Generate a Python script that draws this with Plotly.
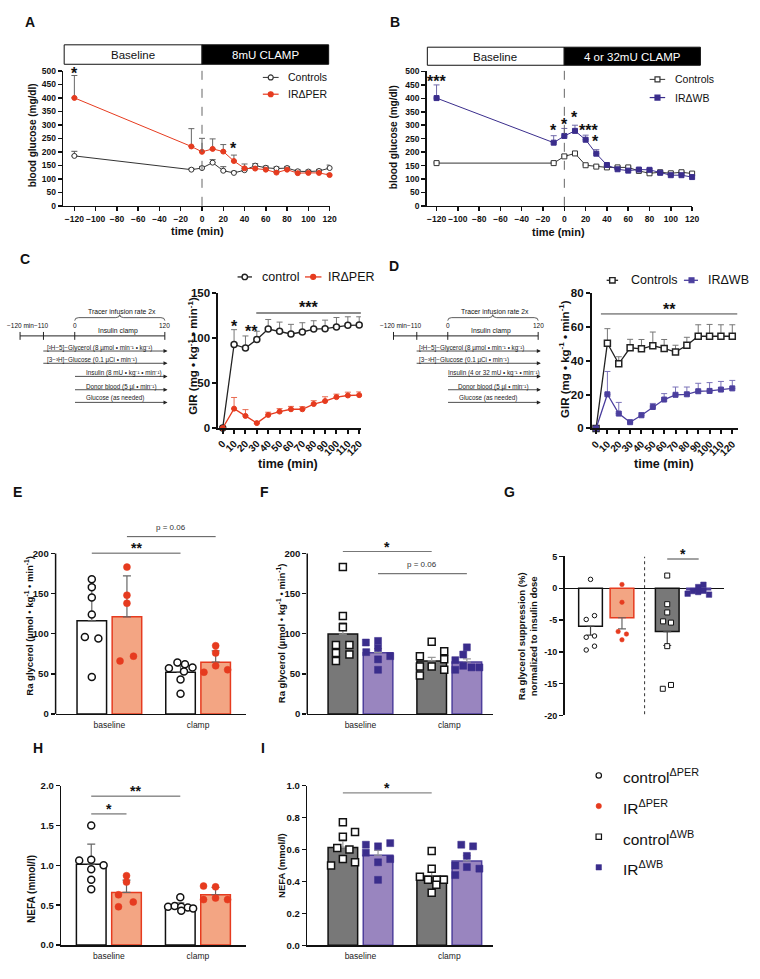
import plotly.graph_objects as go

W, H = 760, 979
FONT = "Liberation Sans, Arial, Helvetica, sans-serif"

RED = "#E63B1F"
SALMON = "#F3A583"
NAVY = "#3A2D8C"
PURPLE = "#4B3F9E"
LAVENDER = "#9985BF"
LAV_EDGE = "#4E3F9C"
GRAYBAR = "#787878"
INK = "#111111"

# ---------------- data ----------------
# A / B : blood glucose time course
time_glucose = [-120, -10, 0, 10, 20, 30, 40, 50, 60, 70, 80, 90, 100, 110, 120]
glucA_ctrl = [185, 134, 140, 160, 130, 122, 132, 149, 141, 138, 140, 128, 127, 129, 140]
glucA_ctrl_err = [17, 5, 6, 11, 15, 6, 8, 7, 6, 6, 6, 5, 5, 6, 11]
glucA_ir = [400, 220, 200, 211, 201, 166, 139, 138, 134, 123, 134, 121, 122, 122, 114]
glucA_ir_err = [83, 66, 50, 37, 26, 22, 16, 8, 6, 6, 6, 6, 6, 6, 6]

glucB_ctrl = [159, 159, 184, 195, 151, 146, 143, 143, 143, 130, 121, 125, 121, 125, 120]
glucB_ctrl_err = [4, 4, 6, 5, 4, 4, 4, 4, 4, 4, 4, 4, 4, 4, 4]
glucB_ir = [401, 235, 260, 279, 246, 194, 152, 136, 131, 135, 134, 123, 114, 114, 107]
glucB_ir_err = [49, 26, 28, 21, 17, 15, 6, 5, 5, 5, 5, 5, 5, 5, 5]

# C / D : glucose infusion rate
time_gir = [0, 10, 20, 30, 40, 50, 60, 70, 80, 90, 100, 110, 120]
girC_ctrl = [0, 92.9, 88.9, 98.4, 110.1, 107.6, 104.6, 106.8, 110.1, 110.5, 112.3, 114.2, 114.5]
girC_ctrl_err = [0, 16.5, 13.5, 9.2, 10.6, 10.2, 10.7, 10.3, 9.2, 9.5, 10.6, 9.5, 9.2]
girC_ir = [0, 21.6, 13.5, 5.5, 14.6, 18.3, 20.9, 20.9, 26.7, 30.0, 34.4, 36.2, 36.6]
girC_ir_err = [0, 12.4, 7.0, 0, 3.0, 3.3, 3.2, 2.9, 3.7, 4.8, 3.3, 3.7, 3.6]

girD_ctrl = [0, 50.4, 38.2, 47.7, 47.1, 48.9, 47.3, 45.2, 49.2, 54.5, 54.5, 54.5, 54.5]
girD_ctrl_err = [0, 8.6, 4.2, 5.0, 5.5, 8.1, 5.3, 4.0, 4.7, 6.8, 7.0, 6.8, 6.8]
girD_ir = [0, 20.2, 8.8, 3.7, 7.8, 12.7, 17.1, 19.9, 20.2, 22.0, 22.2, 23.0, 23.7]
girD_ir_err = [0, 13.5, 6.6, 0, 1.5, 2.1, 3.5, 4.6, 4.3, 4.7, 4.9, 4.8, 4.7]

bar_groups = ["baseline", "clamp"]

# E : Ra glycerol, PER (mean, SD)
E_ctrl_mean = [116, 52]
E_ctrl_sd = [44, 8]
E_ir_mean = [121, 64.5]
E_ir_sd = [51, 14]
E_ctrl_base = [168, 158, 145, 124, 96, 94, 46]
E_ctrl_clamp = [64, 62, 57, 58, 53, 43, 25]
E_ir_base = [183, 148, 138, 66, 72]
E_ir_clamp = [85, 76, 60, 52, 55]

# F : Ra glycerol, WB (mean, SEM)
F_ctrl_mean = [99.5, 66]
F_ctrl_sem = [14.4, 4.6]
F_ir_mean = [76.3, 64.7]
F_ir_sem = [5, 3.9]
F_ctrl_base = [183, 122, 108, 86, 86, 76, 74, 66]
F_ctrl_clamp = [90, 78, 72, 68, 59, 59, 55, 48]
F_ir_base = [89, 91, 82, 77, 72, 68, 55]
F_ir_clamp = [83, 74, 67, 60, 55, 58, 58]

# G : Ra glycerol suppression normalised to insulin dose
G_means = [-5.97, -4.63, -6.8, -0.25]
G_errs = [1.4, 1.76, 2.2, 0.2]
G_ctrl_per = [1.4, -4.3, -4.9, -7.5, -7.7, -9.1, -9.7]
G_ir_per = [0.6, -2.2, -6.8, -7.2, -8.1]
G_ctrl_wb = [2.0, -2.5, -3.8, -5.2, -5.4, -9.1, -15.8, -15.2]
G_ir_wb = [-0.85, -0.44, 0.19, -0.59, 0.55, -0.39, -1.0]

# H : NEFA, PER (mean, SD)
H_ctrl_mean = [1.015, 0.47]
H_ctrl_sd = [0.25, 0.06]
H_ir_mean = [0.66, 0.632]
H_ir_sd = [0.154, 0.09]
H_ctrl_base = [1.50, 1.06, 1.07, 1.00, 0.95, 0.82, 0.70]
H_ctrl_clamp = [0.60, 0.48, 0.49, 0.48, 0.47, 0.46, 0.43]
H_ir_base = [0.87, 0.79, 0.63, 0.48, 0.54]
H_ir_clamp = [0.74, 0.73, 0.57, 0.59, 0.57]

# I : NEFA, WB (mean, SEM)
I_ctrl_mean = [0.612, 0.432]
I_ctrl_sem = [0.04, 0.027]
I_ir_mean = [0.564, 0.528]
I_ir_sem = [0.03, 0.033]
I_ctrl_base = [0.77, 0.68, 0.71, 0.61, 0.60, 0.54, 0.52, 0.50]
I_ctrl_clamp = [0.59, 0.48, 0.43, 0.41, 0.41, 0.41, 0.38, 0.33]
I_ir_base = [0.63, 0.62, 0.64, 0.58, 0.52, 0.54, 0.41]
I_ir_clamp = [0.63, 0.62, 0.56, 0.50, 0.49, 0.48, 0.44]

# jitter (horizontal scatter of dots inside a bar, in category units)
J_E = [[0, 0, 0, 0, -0.078, 0.074, 0], [-0.035, 0.05, -0.131, 0.135, 0.039, 0, 0],
       [0, 0, 0, -0.078, 0.074], [0, 0, 0, -0.132, 0.135]]
J_F = [[0, 0, 0, -0.078, 0.074, -0.078, 0.074, -0.078], [0, 0.141, -0.133, 0.141, 0, -0.133, 0.141, -0.133],
       [-0.137, 0, 0, -0.133, 0.137, 0, 0], [0, -0.041, -0.13, -0.041, -0.13, 0.052, 0.141]]
J_G = [[0, 0.052, -0.056, 0.052, -0.056, 0.052, -0.056], [0, 0, -0.05, 0.058, 0],
       [0, 0, 0, -0.054, 0.049, 0, -0.058, 0.049], [-0.144, -0.075, -0.006, -0.006, 0.062, 0.062, 0.135]]
J_H = [[0, -0.135, 0, 0.139, 0, 0, 0], [0, -0.137, -0.063, 0.011, 0.085, 0.144, 0.011],
       [0, 0, -0.09, -0.09, 0.076], [-0.135, 0, -0.135, 0, 0.135]]
J_I = [[0, 0, 0.137, -0.063, 0.074, 0, 0.137, -0.133], [0, 0, -0.133, 0.137, -0.041, 0.056, 0.052, 0],
       [-0.137, 0, 0.137, -0.137, 0, 0.137, 0], [-0.063, 0.07, 0, -0.13, 0, 0.141, -0.13]]

# ---------------- helpers ----------------
fig = go.Figure()
layout = dict(width=W, height=H, margin=dict(l=0, r=0, t=0, b=0),
              paper_bgcolor="white", plot_bgcolor="white", showlegend=False,
              barmode="overlay", font=dict(family=FONT, color=INK))
shapes = []
annotations = []
YR = {}


def X(x):
    return x / W


def Y(y):
    return 1 - y / H


def ref(n, letter):
    return letter if n == 1 else f"{letter}{n}"


def axkey(n, letter):
    return f"{letter}axis" if n == 1 else f"{letter}axis{n}"


def set_axes(n, xpx, ypx, xr, yr, xkw=None, ykw=None, lw=1.5, fs=9):
    base = dict(showgrid=False, zeroline=False, showline=True, linecolor=INK, linewidth=lw,
                ticks="outside", ticklen=4, tickwidth=lw, tickcolor=INK,
                tickfont=dict(size=fs, weight="bold", color=INK, family=FONT), fixedrange=True)
    xa = dict(base, domain=[X(xpx[0]), X(xpx[1])], range=xr, anchor=ref(n, "y"))
    ya = dict(base, domain=[Y(ypx[1]), Y(ypx[0])], range=yr, anchor=ref(n, "x"))
    if xkw:
        xa.update(xkw)
    if ykw:
        ya.update(ykw)
    layout[axkey(n, "x")] = xa
    layout[axkey(n, "y")] = ya
    YR[n] = yr


def line_px(x0, y0, x1, y1, color=INK, width=1, dash=None):
    ln = dict(color=color, width=width)
    if dash:
        ln["dash"] = dash
    shapes.append(dict(type="line", xref="paper", yref="paper", x0=X(x0), y0=Y(y0), x1=X(x1), y1=Y(y1), line=ln))


def rect_px(x0, y0, x1, y1, fill, edge=INK, width=1):
    shapes.append(dict(type="rect", xref="paper", yref="paper", x0=X(x0), y0=Y(y1), x1=X(x1), y1=Y(y0),
                       fillcolor=fill, line=dict(color=edge, width=width)))


def mark_px(x, y, kind, size, fill, edge, width=1.2):
    h = size / 2
    shapes.append(dict(type=kind, xref="paper", yref="paper", x0=X(x - h), x1=X(x + h), y0=Y(y + h), y1=Y(y - h),
                       fillcolor=fill, line=dict(color=edge, width=width)))


def txt(x, y, s, size, color=INK, xanchor="center", yanchor="middle", angle=0):
    annotations.append(dict(x=X(x), y=Y(y), xref="paper", yref="paper", text=s, showarrow=False,
                            font=dict(size=size, color=color, family=FONT), xanchor=xanchor,
                            yanchor=yanchor, textangle=angle))


def txt_data(n, x, y, s, size, color=INK, yshift=0):
    y0, y1 = YR[n]
    annotations.append(dict(x=x, y=(y - y0) / (y1 - y0), xref=ref(n, "x"), yref=ref(n, "y") + " domain",
                            text=s, showarrow=False,
                            font=dict(size=size, color=color, family=FONT), xanchor="center",
                            yanchor="middle", yshift=yshift))


def line_data(n, x0, x1, y, color=INK, width=1):
    shapes.append(dict(type="line", xref=ref(n, "x"), yref=ref(n, "y"), x0=x0, x1=x1, y0=y, y1=y,
                       line=dict(color=color, width=width)))


def arrow_px(x0, x1, y):
    annotations.append(dict(x=X(x1), y=Y(y), xref="paper", yref="paper", text="", showarrow=True,
                            ax=-(x1 - x0), ay=0, axref="pixel", ayref="pixel", arrowhead=2,
                            arrowsize=1, arrowwidth=0.8, arrowcolor="#222", standoff=0, startstandoff=0))


def series(n, x, y, err, color, symbol, size, fill, mlw, lw, errcolor):
    fig.add_trace(go.Scatter(
        x=x, y=y, mode="lines+markers", xaxis=ref(n, "x"), yaxis=ref(n, "y"),
        line=dict(color=color, width=lw),
        marker=dict(symbol=symbol, size=size, color=fill, line=dict(color=color, width=mlw)),
        error_y=dict(type="data", symmetric=False, array=err, arrayminus=[0] * len(err),
                     color=errcolor, thickness=1, width=3),
        cliponaxis=False, hoverinfo="skip"))


def bars(n, xs, means, errs, d, w, fill, edge, errcolor, down=False):
    zeros = [0] * len(errs)
    fig.add_trace(go.Bar(
        x=xs, y=means, width=w, offset=d - w / 2, xaxis=ref(n, "x"), yaxis=ref(n, "y"),
        marker=dict(color=fill, line=dict(color=edge, width=1.5)),
        error_y=dict(type="data", symmetric=False, array=zeros if down else errs,
                     arrayminus=errs if down else zeros, color=errcolor, thickness=1.2, width=4),
        hoverinfo="skip"))


def dots(n, gx, d, values, jitter, symbol, size, fill, edge, lw=1.5):
    fig.add_trace(go.Scatter(
        x=[gx + d + j for j in jitter], y=values, mode="markers", xaxis=ref(n, "x"), yaxis=ref(n, "y"),
        marker=dict(symbol=symbol, size=size, color=fill, line=dict(color=edge, width=lw)),
        cliponaxis=False, hoverinfo="skip"))


# ---------------- panel A ----------------
glu_x = dict(tickvals=list(range(-120, 121, 20)), tickangle=0)
set_axes(1, (61, 331), (65.7, 202.3), [-130.5, 120], [0, 500],
         xkw=glu_x, ykw=dict(tickvals=list(range(0, 501, 50))), fs=8.5)
series(1, time_glucose, glucA_ctrl, glucA_ctrl_err, "#333", "circle", 5, "white", 1, 1, "#555")
series(1, time_glucose, glucA_ir, glucA_ir_err, RED, "circle", 5, RED, 1, 1, "#666")
rect_px(62, 39.3, 201.7, 59, "white")
rect_px(201.7, 39.3, 330, 59, "black")
txt(132, 49.5, "Baseline", 11.5)
txt(266, 49.5, "8mU CLAMP", 11.5, color="white")
shapes.append(dict(type="line", xref="x", yref="paper", x0=0, x1=0, y0=Y(202.3), y1=Y(59),
                   line=dict(color="#666", width=1, dash="dash")))
txt_data(1, -120, 505, "<b>*</b>", 16, yshift=-4)
txt_data(1, 30, 226, "<b>*</b>", 16, yshift=-4)
line_px(263.3, 72.3, 279.3, 72.3, "#333", 1)
mark_px(271.3, 72.3, "circle", 5, "white", "#333")
txt(286.7, 72.3, "Controls", 10.5, xanchor="left")
line_px(263.3, 89.3, 279.3, 89.3, RED, 1.2)
mark_px(271.3, 89.3, "circle", 5, RED, RED)
txt(286.7, 89.3, "IRΔPER", 10.5, xanchor="left")
txt(29.3, 131, "<b>blood glucose (mg/dl)</b>", 10, angle=-90)
txt(196.7, 227.7, "<b>time (min)</b>", 11)
txt(27, 16, "<b>A</b>", 14)

# ---------------- panel B ----------------
set_axes(2, (429.3, 698.3), (66.3, 202.3), [-129.3, 120], [0, 500],
         xkw=glu_x, ykw=dict(tickvals=list(range(0, 501, 50))), fs=8.5)
series(2, time_glucose, glucB_ctrl, glucB_ctrl_err, "#333", "square", 5, "white", 1, 1, "#555")
series(2, time_glucose, glucB_ir, glucB_ir_err, NAVY, "square", 5, NAVY, 1, 1, "#6F68A8")
rect_px(430, 41.7, 568.7, 60, "white")
rect_px(568.7, 41.7, 706.7, 60, "black")
txt(499, 51.5, "Baseline", 11.5)
txt(637.7, 51.5, "4 or 32mU CLAMP", 11.5, color="white")
shapes.append(dict(type="line", xref="x2", yref="paper", x0=0, x1=0, y0=Y(202.3), y1=Y(60),
                   line=dict(color="#666", width=1, dash="dash")))
for bx, by, bs in [(-120, 478, "***"), (-10, 295, "*"), (0, 318, "*"), (10, 345, "*"), (23, 296, "***"), (29.5, 253, "*")]:
    txt_data(2, bx, by, f"<b>{bs}</b>", 16, yshift=-4)
line_px(655.3, 74.3, 671, 74.3, "#333", 1)
mark_px(663.2, 74.3, "rect", 5, "white", "#333")
txt(678.7, 74.3, "Controls", 10.5, xanchor="left")
line_px(655.3, 92.7, 671, 92.7, NAVY, 1.2)
mark_px(663.2, 92.7, "rect", 5, NAVY, NAVY)
txt(678.7, 92.7, "IRΔWB", 10.5, xanchor="left")
txt(396, 133, "<b>blood glucose (mg/dl)</b>", 10, angle=-90)
txt(563.3, 228.3, "<b>time (min)</b>", 11)
txt(397.7, 16, "<b>B</b>", 14)

# ---------------- panel C ----------------
gir_x = dict(tickvals=time_gir, ticktext=[str(t) for t in time_gir], tickangle=-45,
             tickfont=dict(size=10, weight="bold", color=INK, family=FONT))
set_axes(3, (218.3, 362.7), (290.7, 427.3), [-3.76, 121.5], [0, 150], xkw=gir_x,
         ykw=dict(tickvals=[0, 50, 100, 150]), lw=2, fs=11.5)
series(3, time_gir, girC_ctrl, girC_ctrl_err, "#222", "circle", 6, "white", 1.5, 1.3, "#777")
series(3, time_gir, girC_ir, girC_ir_err, RED, "circle", 5, RED, 1, 1.3, "#E86A50")
txt_data(3, 10.7, 117.8, "<b>*</b>", 16, yshift=-4)
txt_data(3, 25.2, 112.3, "<b>**</b>", 16, yshift=-4)
txt_data(3, 75.8, 138, "<b>***</b>", 16, yshift=-4)
line_data(3, 29.5, 121.5, 128, "#8C8C8C", 2)
line_px(237.7, 274.3, 252.3, 274.3, "#222", 1.3)
mark_px(245, 274.3, "circle", 5.5, "white", "#222", 1.4)
txt(260, 274.3, "control", 12.5, xanchor="left")
line_px(306, 274.3, 322.7, 274.3, RED, 1.3)
mark_px(314.3, 274.3, "circle", 5, RED, RED)
txt(327.3, 274.3, "IRΔPER", 12.5, xanchor="left")
txt(191.7, 354, "<b>GIR (mg • kg<sup>-1</sup> • min<sup>-1</sup>)</b>", 11.5, angle=-90)
txt(289.3, 463.3, "<b>time (min)</b>", 12.5)
txt(22, 255.7, "<b>C</b>", 14)

# ---------------- panel D ----------------
set_axes(4, (596.7, 744.3), (290.7, 427.7), [-3.7, 124.6], [0, 80], xkw=gir_x,
         ykw=dict(tickvals=[0, 20, 40, 60, 80]), lw=2, fs=11.5)
series(4, time_gir, girD_ctrl, girD_ctrl_err, "#222", "square", 6, "white", 1.5, 1.3, "#777")
series(4, time_gir, girD_ir, girD_ir_err, PURPLE, "square", 5, PURPLE, 1, 1.3, "#7A72B8")
txt_data(4, 64.3, 72.6, "<b>**</b>", 16, yshift=-4)
line_data(4, 4.3, 124.6, 67.7, "#444", 1)
line_px(611.7, 277.7, 623.3, 277.7, "#222", 1.3)
mark_px(617.5, 277.7, "rect", 5.5, "white", "#222", 1.4)
txt(634.3, 277.7, "Controls", 12.5, xanchor="left")
line_px(690, 277.7, 704.3, 277.7, PURPLE, 1.3)
mark_px(697.7, 277.7, "rect", 5, PURPLE, PURPLE)
txt(712.7, 277.7, "IRΔWB", 12.5, xanchor="left")
txt(568.3, 357.5, "<b>GIR (mg • kg<sup>-1</sup> • min<sup>-1</sup>)</b>", 11.5, angle=-90)
txt(670, 464, "<b>time (min)</b>", 12.5)
txt(396.7, 263.3, "<b>D</b>", 14)


# ---------------- protocol diagrams (C, D) ----------------
def diagram(tick_xs, text_starts, insulin_text, brace_apex, tracer_cx, clamp_cx, arrow_end):
    t120, t110, t0, t120b = tick_xs
    line_px(t120, 334, t120b, 334, "#222", 1)
    for tx in tick_xs:
        line_px(tx, 330, tx, 338, "#222", 1)
    txt(t120, 323.3, "−120 min", 6.5)
    txt(t110 - 2, 323.3, "−110", 6.5)
    txt(t0, 323.3, "0", 6.5)
    txt(t120b, 323.3, "120", 6.5)
    txt(tracer_cx, 309, "Tracer infusion rate 2x", 6.8)
    txt(clamp_cx, 329, "Insulin clamp", 6.8)
    y0, ym, yt = 318.5, 315.5, 312.5
    pts = [(t0, y0), (t0, ym), (t0 + 4, ym), (brace_apex - 4, ym), (brace_apex, ym), (brace_apex, yt),
           (brace_apex, ym), (brace_apex + 4, ym), (t120b - 4, ym), (t120b, ym), (t120b, y0)]
    P = [f"{X(a):.5f},{Y(b):.5f}" for a, b in pts]
    path = (f"M{P[0]} Q{P[1]} {P[2]} L{P[3]} Q{P[4]} {P[5]} Q{P[6]} {P[7]} L{P[8]} Q{P[9]} {P[10]}")
    shapes.append(dict(type="path", xref="paper", yref="paper", path=path, line=dict(color="#333", width=0.8)))
    g_start, i_start = text_starts
    rows = [
        (t110, 349.3, g_start, 346, "[²H−5]−Glycerol (8 µmol • min⁻¹ • kg⁻¹)"),
        (t110, 361.7, g_start, 358.3, "[3−³H]−Glucose (0.1 µCi • min⁻¹)"),
        (t0, 375, i_start[0], 371.5, insulin_text),
        (t0, 388.5, i_start[1], 385.3, "Donor blood (5 µl • min⁻¹)"),
        (t0, 401.3, i_start[2], 396.7, "Glucose (as needed)"),
    ]
    for x0, ly, tx, ty, s in rows:
        arrow_px(x0, arrow_end, ly)
        txt(tx, ty, s, 6.3, color="#222", xanchor="left")


diagram((17.3, 41, 72.7, 164), (42.7, (81.7, 81.7, 81.7)), "Insulin (8 mU • kg⁻¹ • min⁻¹)",
        118.3, 120.3, 116.7, 166.7)
diagram((395.7, 419.3, 450.7, 542.3), (420, (449, 459.3, 460)), "Insulin (4 or 32 mU • kg⁻¹ • min⁻¹)",
        496.3, 498.3, 495, 545)

# ---------------- bar panels ----------------
D2, WB = 0.198, 0.333
cat_x = dict(tickvals=[0, 1], ticktext=bar_groups, ticks="outside", ticklen=2, tickcolor="rgba(0,0,0,0)",
             tickfont=dict(size=8.5, color="#222", family=FONT))

# E
set_axes(5, (53.3, 246.7), (521.8, 716.7), [-0.606, 1.545], [0, 240], xkw=cat_x,
         ykw=dict(tickvals=[0, 50, 100, 150, 200], showline=False), fs=9.5)
line_px(53.3, 554.3, 53.3, 716.7, INK, 1.5)
bars(5, [0, 1], E_ctrl_mean, E_ctrl_sd, -D2, WB, "white", INK, "#666")
bars(5, [0, 1], E_ir_mean, E_ir_sd, D2, WB, SALMON, RED, "#666")
for gx, vals, jit in [(0, E_ctrl_base, J_E[0]), (1, E_ctrl_clamp, J_E[1])]:
    dots(5, gx, -D2, vals, jit, "circle", 7, "white", INK)
for gx, vals, jit in [(0, E_ir_base, J_E[2]), (1, E_ir_clamp, J_E[3])]:
    dots(5, gx, D2, vals, jit, "circle", 7, RED, RED, 0.5)
line_data(5, -D2, 1 - D2, 200.4, "#555", 1)
txt_data(5, 0.5 - D2, 211.5, "<b>**</b>", 14, yshift=-4)
line_data(5, D2, 1 + D2, 221, "#555", 1)
txt_data(5, 0.5 + D2, 232, "p = 0.06", 8, color="#333")
txt(26.7, 627, "<b>Ra glycerol (µmol • kg<sup>-1</sup> • min<sup>-1</sup>)</b>", 9.5, angle=-90)
txt(15, 492, "<b>E</b>", 14)

# F
set_axes(6, (308.3, 496.7), (521.8, 716.7), [-0.599, 1.494], [0, 240], xkw=cat_x,
         ykw=dict(tickvals=[0, 50, 100, 150, 200], showline=False), fs=9.5)
line_px(308.3, 554.3, 308.3, 716.7, INK, 1.5)
bars(6, [0, 1], F_ctrl_mean, F_ctrl_sem, -D2, WB, GRAYBAR, INK, "#9a9a9a")
bars(6, [0, 1], F_ir_mean, F_ir_sem, D2, WB, LAVENDER, LAV_EDGE, "#9a9a9a")
for gx, vals, jit in [(0, F_ctrl_base, J_F[0]), (1, F_ctrl_clamp, J_F[1])]:
    dots(6, gx, -D2, vals, jit, "square", 7, "white", INK)
for gx, vals, jit in [(0, F_ir_base, J_F[2]), (1, F_ir_clamp, J_F[3])]:
    dots(6, gx, D2, vals, jit, "square", 7, NAVY, NAVY, 0.5)
line_data(6, -D2, 1 - D2, 202.5, "#777", 1.2)
txt_data(6, 0.5 - D2, 213.5, "<b>*</b>", 14, yshift=-4)
line_data(6, D2, 1 + D2, 175, "#777", 1.2)
txt_data(6, 0.5 + D2, 186, "p = 0.06", 8, color="#333")
txt(281.7, 635, "<b>Ra glycerol (µmol • kg<sup>-1</sup> • min<sup>-1</sup>)</b>", 9.5, angle=-90)
txt(265, 492, "<b>F</b>", 14)

# G
GD, GW = 0.205, 0.309
set_axes(7, (569, 731), (557.3, 718.3), [-0.544, 1.54], [-20, 5],
         xkw=dict(showline=False, ticks="", showticklabels=False),
         ykw=dict(tickvals=[-20, -15, -10, -5, 0, 5], ticktext=["-20", "-15", "-10", "-5", "0", "5"],
                  zeroline=True, zerolinecolor=INK, zerolinewidth=1.2), fs=9)
bars(7, [0], G_means[0:1], G_errs[0:1], -GD, GW, "white", INK, "#444", down=True)
bars(7, [0], G_means[1:2], G_errs[1:2], GD, GW, SALMON, RED, "#666", down=True)
bars(7, [1], G_means[2:3], G_errs[2:3], -GD, GW, GRAYBAR, INK, "#444", down=True)
bars(7, [1], G_means[3:4], G_errs[3:4], GD, GW, LAVENDER, LAV_EDGE, "#666", down=True)
dots(7, 0, -GD, G_ctrl_per, J_G[0], "circle", 4.5, "white", INK, 1)
dots(7, 0, GD, G_ir_per, J_G[1], "circle", 4.5, RED, RED, 0.5)
dots(7, 1, -GD, G_ctrl_wb, J_G[2], "square", 5, "white", INK, 1)
dots(7, 1, GD, G_ir_wb, J_G[3], "square", 5.5, NAVY, NAVY, 0.5)
shapes.append(dict(type="line", xref="x7", yref="y7", x0=0.5, x1=0.5, y0=-19.8, y1=5,
                   line=dict(color="#333", width=1, dash="dot")))
line_data(7, 1 - GD, 1 + GD, 4.6, "#444", 1)
txt_data(7, 1, 6.0, "<b>*</b>", 14, yshift=-4)
txt(531, 638, "<b>Ra glycerol suppression (%)<br>normalized to insulin dose</b>", 9.5, angle=-90)
txt(513, 492, "<b>G</b>", 14)

# H
set_axes(8, (59, 246.7), (789.3, 950.7), [-0.535, 1.545], [0, 2], xkw=cat_x,
         ykw=dict(tickvals=[0, 0.5, 1.0, 1.5, 2.0], ticktext=["0.0", "0.5", "1.0", "1.5", "2.0"]), fs=9.5)
bars(8, [0, 1], H_ctrl_mean, H_ctrl_sd, -D2, WB, "white", INK, "#666")
bars(8, [0, 1], H_ir_mean, H_ir_sd, D2, WB, SALMON, RED, "#666")
for gx, vals, jit in [(0, H_ctrl_base, J_H[0]), (1, H_ctrl_clamp, J_H[1])]:
    dots(8, gx, -D2, vals, jit, "circle", 7, "white", INK)
for gx, vals, jit in [(0, H_ir_base, J_H[2]), (1, H_ir_clamp, J_H[3])]:
    dots(8, gx, D2, vals, jit, "circle", 7, RED, RED, 0.5)
line_data(8, -D2, 1 - D2, 1.868, "#555", 1)
txt_data(8, 0.5 - D2, 1.98, "<b>**</b>", 14, yshift=-4)
line_data(8, -D2, D2, 1.645, "#555", 1)
txt_data(8, 0, 1.76, "<b>*</b>", 14, yshift=-4)
txt(28.3, 894, "<b>NEFA (mmol/l)</b>", 10, angle=-90)
txt(35, 751.7, "<b>H</b>", 14)

# I
set_axes(9, (308.3, 496.7), (789.3, 951), [-0.599, 1.494], [0, 1], xkw=cat_x,
         ykw=dict(tickvals=[0, 0.2, 0.4, 0.6, 0.8, 1.0], ticktext=["0.0", "0.2", "0.4", "0.6", "0.8", "1.0"]), fs=9.5)
bars(9, [0, 1], I_ctrl_mean, I_ctrl_sem, -D2, WB, GRAYBAR, INK, "#9a9a9a")
bars(9, [0, 1], I_ir_mean, I_ir_sem, D2, WB, LAVENDER, LAV_EDGE, "#9a9a9a")
for gx, vals, jit in [(0, I_ctrl_base, J_I[0]), (1, I_ctrl_clamp, J_I[1])]:
    dots(9, gx, -D2, vals, jit, "square", 7, "white", INK)
for gx, vals, jit in [(0, I_ir_base, J_I[2]), (1, I_ir_clamp, J_I[3])]:
    dots(9, gx, D2, vals, jit, "square", 7, NAVY, NAVY, 0.5)
line_data(9, -D2, 1 - D2, 0.955, "#888", 1.2)
txt_data(9, 0.5 - D2, 1.012, "<b>*</b>", 14, yshift=-4)
txt(282.3, 870, "<b>NEFA (mmol/l)</b>", 9.5, angle=-90)
txt(263.3, 751.7, "<b>I</b>", 14)

# ---------------- shared legend ----------------
mark_px(603.7, 779, "circle", 5.5, "white", INK, 1.2)
txt(626, 780, "control<sup>ΔPER</sup>", 15.5, xanchor="left")
mark_px(603.7, 810, "circle", 5.5, RED, RED, 0.5)
txt(626, 811, "IR<sup>ΔPER</sup>", 15.5, xanchor="left")
mark_px(603.7, 841, "rect", 5.5, "white", INK, 1.2)
txt(626, 842, "control<sup>ΔWB</sup>", 15.5, xanchor="left")
mark_px(603.7, 872, "rect", 5.5, NAVY, NAVY, 0.5)
txt(626, 873, "IR<sup>ΔWB</sup>", 15.5, xanchor="left")

layout["shapes"] = shapes
layout["annotations"] = annotations
fig.update_layout(**layout)
fig.write_html("out.html", config={"displayModeBar": False, "staticPlot": True},
               post_script="document.body.style.margin='0px';document.documentElement.style.overflow='hidden';")
